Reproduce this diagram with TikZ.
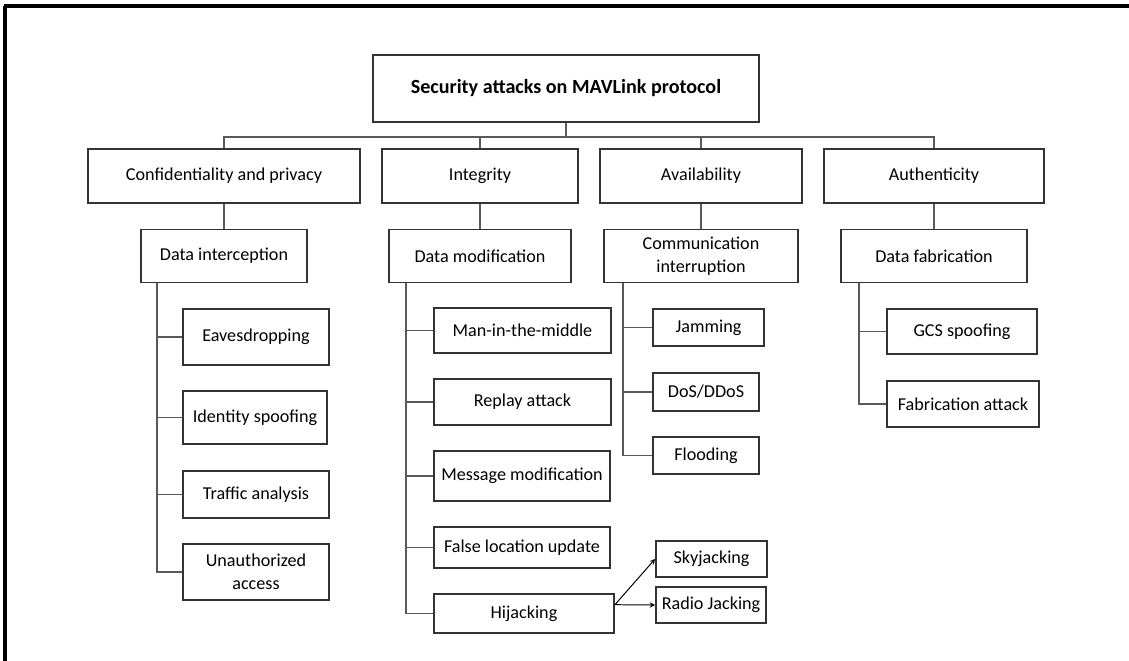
\documentclass[tikz,border=0pt]{standalone}
\usepackage{fontspec}
\setmainfont{Carlito}

\tikzset{
  box/.style={draw=black!80, line width=1.3pt, inner sep=0pt, align=center,
    font=\fontsize{12.9}{16.2}\selectfont},
  rootbox/.style={box, font=\fontsize{14.3}{17}\selectfont\bfseries},
  conn/.style={draw=black!65, line width=0.9pt}
}

\begin{document}
\begin{tikzpicture}[>=stealth]
    \useasboundingbox (0,0) rectangle (28.225,-16.525);
    % Rahmen oben und links
    \draw[line width=2.6pt] (0.1,-0.15) -- (28.225,-0.15);
    \draw[line width=2.6pt] (0.125,-0.15) -- (0.125,-16.525);

    % Wurzel
    \node[rootbox, minimum width=9.65cm, minimum height=1.675cm] (root) at (14.15,-2.2125) {Security attacks on MAVLink protocol};

    % erste Ebene
    \node[box, minimum width=6.8cm, minimum height=1.35cm] (conf) at (5.6,-4.4) {Confidentiality and privacy};
    \node[box, minimum width=4.9cm, minimum height=1.35cm] (integ) at (12,-4.4) {Integrity};
    \node[box, minimum width=5.05cm, minimum height=1.35cm] (avail) at (17.525,-4.4) {Availability};
    \node[box, minimum width=5.5cm, minimum height=1.35cm] (auth) at (23.35,-4.4) {Authenticity};

    % zweite Ebene
    \node[box, minimum width=4.15cm, minimum height=1.325cm] (dint) at (5.6,-6.4) {Data interception};
    \node[box, minimum width=4.55cm, minimum height=1.325cm] (dmod) at (12,-6.4) {Data modification};
    \node[box, minimum width=4.85cm, minimum height=1.325cm] (comm) at (17.525,-6.4) {Communication\\interruption};
    \node[box, minimum width=4.65cm, minimum height=1.325cm] (dfab) at (23.35,-6.4) {Data fabrication};

    % Angriffe
    \node[box, minimum width=3.65cm, minimum height=1.4cm] (eaves) at (6.4,-8.425) {Eavesdropping};
    \node[box, minimum width=3.6cm, minimum height=1.325cm] (ident) at (6.375,-10.4375) {Identity spoofing};
    \node[box, minimum width=3.65cm, minimum height=1.175cm] (traffic) at (6.4,-12.3625) {Traffic analysis};
    \node[box, minimum width=3.65cm, minimum height=1.4cm] (unauth) at (6.4,-14.3) {Unauthorized\\access};

    \node[box, minimum width=4.425cm, minimum height=1.125cm] (mitm) at (13.0625,-8.2625) {Man-in-the-middle};
    \node[box, minimum width=4.425cm, minimum height=1.15cm] (replay) at (13.0625,-10.05) {Replay attack};
    \node[box, minimum width=4.4cm, minimum height=1.25cm] (msgmod) at (13.05,-11.9) {Message modification};
    \node[box, minimum width=4.4cm, minimum height=1.025cm] (falseloc) at (13.05,-13.6875) {False location update};
    \node[box, minimum width=4.5cm, minimum height=0.975cm] (hijack) at (13.1,-15.3375) {Hijacking};

    \node[box, minimum width=2.775cm, minimum height=0.925cm] (jam) at (17.7125,-8.1875) {Jamming};
    \node[box, minimum width=2.65cm, minimum height=0.95cm] (dos) at (17.65,-9.8) {DoS/DDoS};
    \node[box, minimum width=2.65cm, minimum height=0.925cm] (flood) at (17.65,-11.3875) {Flooding};

    \node[box, minimum width=3.75cm, minimum height=1.125cm] (gcs) at (24.05,-8.2875) {GCS spoofing};
    \node[box, minimum width=3.8cm, minimum height=1.15cm] (fabatk) at (24.075,-10.1) {Fabrication attack};

    \node[box, minimum width=2.775cm, minimum height=0.9cm] (sky) at (17.7875,-13.975) {Skyjacking};
    \node[box, minimum width=2.75cm, minimum height=0.9cm] (radio) at (17.775,-15.125) {Radio Jacking};

    % Verbindungen
    \draw[conn] (root.south) -- ++(0,-0.35) coordinate (bus);
    \foreach \n in {conf,integ,avail,auth}
        \draw[conn] (bus) -| (\n.north);
    \draw[conn] (conf) -- (dint);
    \draw[conn] (integ) -- (dmod);
    \draw[conn] (avail) -- (comm);
    \draw[conn] (auth) -- (dfab);

    \coordinate (tint) at ([xshift=0.425cm]dint.south west);
    \coordinate (tmod) at ([xshift=0.45cm]dmod.south west);
    \coordinate (tcom) at ([xshift=0.5cm]comm.south west);
    \coordinate (tfab) at ([xshift=0.475cm]dfab.south west);
    \foreach \n in {eaves,ident,traffic,unauth}
        \draw[conn] (tint) |- (\n.west);
    \foreach \n in {mitm,replay,msgmod,falseloc,hijack}
        \draw[conn] (tmod) |- (\n.west);
    \foreach \n in {jam,dos,flood}
        \draw[conn] (tcom) |- (\n.west);
    \foreach \n in {gcs,fabatk}
        \draw[conn] (tfab) |- (\n.west);

    % Hijacking
    \coordinate (hj) at ([yshift=0.22cm]hijack.east);
    \draw[->, line width=0.7pt] (hj) -- (sky.west);
    \draw[->, line width=0.7pt] (hj) -- (radio.west);
\end{tikzpicture}
\end{document}
